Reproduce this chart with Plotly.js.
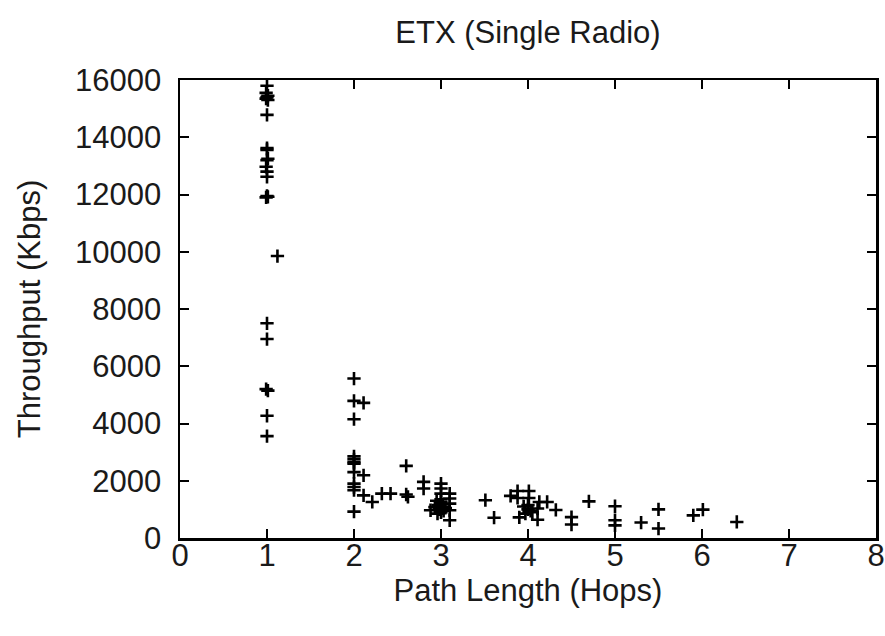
<!DOCTYPE html>
<html>
<head>
<meta charset="utf-8">
<script src="https://cdn.plot.ly/plotly-3.0.1.min.js"></script>
<style>html,body{margin:0;padding:0;background:#fff;}#chart{width:885px;height:636px;}</style>
</head>
<body>
<div id="chart"></div>
<script>
// Path length (hops) of each measured pair
const hops = [
  // 1 hop
  1.0, 0.99, 1.01, 1.0, 0.99, 1.01, 1.0, 1.0, 1.0, 1.01, 1.0, 0.99, 1.0, 1.0, 1.0, 0.99, 1.01, 1.12, 1.0, 1.0, 0.99, 1.01, 1.0, 1.0,
  // 2 hops
  2.0, 2.0, 2.11, 2.0, 2.0, 2.0, 2.0, 2.0, 2.0, 2.11, 2.0, 2.0, 2.0, 2.11, 2.21, 2.32, 2.42, 2.0,
  // ~2.6 - 2.8
  2.6, 2.6, 2.62, 2.8, 2.8,
  // 3 hops
  3.0, 3.0, 3.0, 3.1, 3.1, 3.1, 3.1, 3.1, 2.88, 2.95, 3.0, 2.97, 3.02, 2.98, 3.03, 3.0, 2.96, 3.05, 3.0, 2.93,
  // 3.5 - 4.3
  3.51, 3.61, 3.80, 3.88, 4.01, 3.88, 4.01, 3.95, 4.0, 4.03, 3.97, 4.05, 4.0, 4.11, 4.13, 4.22, 4.32, 3.90, 4.11,
  // 4.5+
  4.50, 4.50, 4.70, 5.0, 5.0, 5.0, 5.30, 5.50, 5.50, 5.90, 6.01, 6.40
];
// Throughput (Kbps) of each measured pair
const throughput = [
  15800, 15550, 15450, 15400, 15350, 15300, 14780, 13620, 13560, 13250, 13200, 12970, 12800, 12620, 11950, 11900, 11920, 9850, 7500, 6950, 5200, 5150, 4270, 3560,
  5570, 4790, 4720, 4150, 2850, 2750, 2650, 2600, 2300, 2190, 1900, 1780, 1670, 1490, 1260, 1550, 1550, 920,
  2520, 1520, 1440, 1960, 1730,
  1900, 1730, 1550, 1550, 1380, 1200, 970, 620, 970, 1300, 1250, 1150, 1100, 1000, 950, 900, 850, 1050, 1350, 1080,
  1320, 710, 1470, 1640, 1640, 1400, 1400, 1100, 1000, 950, 850, 900, 1150, 1030, 1260, 1260, 980, 720, 640,
  730, 470, 1280, 1110, 620, 440, 540, 1000, 330, 790, 990, 560
];

const fontFam = '"Liberation Sans", Arial, Helvetica, sans-serif';

const trace = {
  x: hops,
  y: throughput,
  type: 'scatter',
  mode: 'markers',
  marker: {
    symbol: 'cross-thin',
    size: 9.5,
    color: '#000',
    line: {color: '#000', width: 2.6}
  },
  hoverinfo: 'x+y',
  showlegend: false
};

const axisCommon = {
  showline: true,
  linecolor: '#000',
  linewidth: 2.5,
  mirror: 'allticks',
  ticks: 'inside',
  ticklen: 9,
  tickwidth: 2,
  tickcolor: '#000',
  showgrid: false,
  zeroline: false,
  tickfont: {family: fontFam, size: 31, color: '#1a1a1a'}
};

const layout = {
  width: 885,
  height: 636,
  paper_bgcolor: '#fff',
  plot_bgcolor: '#fff',
  margin: {l: 180, r: 9, t: 80, b: 98},
  title: {
    text: 'ETX (Single Radio)',
    font: {family: fontFam, size: 31, color: '#1a1a1a'},
    x: 0.5, xref: 'paper', xanchor: 'center',
    y: 1 - 32 / 636, yref: 'container', yanchor: 'middle'
  },
  xaxis: Object.assign({}, axisCommon, {
    range: [0, 8],
    tickmode: 'linear', tick0: 0, dtick: 1,
    ticklabelstandoff: -12,
    title: {text: 'Path Length (Hops)', font: {family: fontFam, size: 31, color: '#1a1a1a'}, standoff: 2}
  }),
  yaxis: Object.assign({}, axisCommon, {
    range: [0, 16000],
    tickmode: 'linear', tick0: 0, dtick: 2000,
    tickformat: 'd',
    ticklabelstandoff: 10,
    title: {text: 'Throughput (Kbps)', font: {family: fontFam, size: 31, color: '#1a1a1a'}, standoff: 25}
  })
};

Plotly.newPlot('chart', [trace], layout, {displayModeBar: false, staticPlot: true});
</script>
</body>
</html>
